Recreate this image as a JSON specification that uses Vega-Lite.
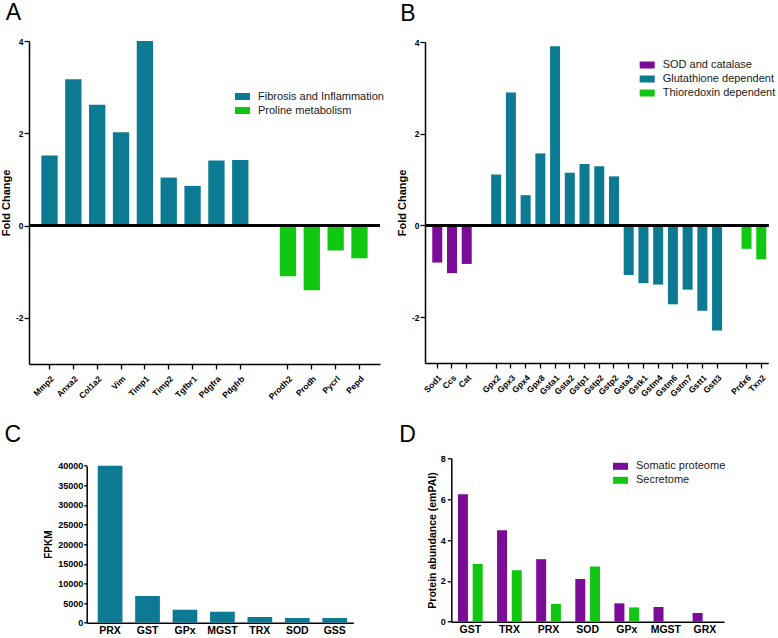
{
  "$schema": "https://vega.github.io/schema/vega-lite/v6.json",
  "background": "white",
  "padding": {"left": 0, "top": 2, "right": 0, "bottom": 0},
  "config": {
    "font": "Liberation Sans",
    "view": {"stroke": null},
    "axis": {"domainColor": "black", "tickColor": "black", "labelColor": "black", "titleColor": "black", "grid": false, "labelFontWeight": "bold", "titleFontWeight": "bold", "domainWidth": 1.5, "tickWidth": 1.3, "labelFont": "Liberation Sans", "titleFont": "Liberation Sans"},
    "legend": {"labelFont": "Liberation Sans", "labelFontSize": 11, "labelColor": "#1a1a1a", "symbolType": "M-1,-0.467H1V0.467H-1Z", "symbolSize": 225, "symbolStrokeWidth": 0, "labelOffset": 8, "rowPadding": 1, "padding": 0},
    "title": {"font": "Liberation Sans", "fontSize": 23, "fontWeight": "normal", "anchor": "start", "frame": "group", "baseline": "alphabetic", "color": "black"}
  },
  "concat": [
    {
      "title": {"text": "A", "dx": -23.3, "offset": 12},
      "width": 351,
      "height": 323,
      "data": {"values": [
        {"gene": "Mmp2", "fc": 1.52, "group": "Fibrosis and Inflammation"},
        {"gene": "Anxa2", "fc": 3.17, "group": "Fibrosis and Inflammation"},
        {"gene": "Col1a2", "fc": 2.62, "group": "Fibrosis and Inflammation"},
        {"gene": "Vim", "fc": 2.02, "group": "Fibrosis and Inflammation"},
        {"gene": "Timp1", "fc": 4.0, "group": "Fibrosis and Inflammation"},
        {"gene": "Timp2", "fc": 1.04, "group": "Fibrosis and Inflammation"},
        {"gene": "Tgfbr1", "fc": 0.86, "group": "Fibrosis and Inflammation"},
        {"gene": "Pdgfra", "fc": 1.41, "group": "Fibrosis and Inflammation"},
        {"gene": "Pdgfrb", "fc": 1.42, "group": "Fibrosis and Inflammation"},
        {"gene": "Prodh2", "fc": -1.10, "group": "Proline metabolism"},
        {"gene": "Prodh", "fc": -1.40, "group": "Proline metabolism"},
        {"gene": "Pycrl", "fc": -0.54, "group": "Proline metabolism"},
        {"gene": "Pepd", "fc": -0.71, "group": "Proline metabolism"}
      ]},
      "layer": [
        {
          "mark": {"type": "bar"},
          "encoding": {
            "x": {"field": "gene", "type": "nominal", "sort": null,
              "scale": {"domain": ["Mmp2", "Anxa2", "Col1a2", "Vim", "Timp1", "Timp2", "Tgfbr1", "Pdgfra", "Pdgfrb", " ", "Prodh2", "Prodh", "Pycrl", "Pepd"], "paddingInner": 0.316, "paddingOuter": 0.518},
              "axis": {"title": null, "values": ["Mmp2", "Anxa2", "Col1a2", "Vim", "Timp1", "Timp2", "Tgfbr1", "Pdgfra", "Pdgfrb", "Prodh2", "Prodh", "Pycrl", "Pepd"], "labelAngle": -45, "labelFontSize": 8.5, "tickSize": 5, "labelPadding": 5}},
            "y": {"field": "fc", "type": "quantitative",
              "scale": {"domain": [-3, 4], "nice": false},
              "axis": {"title": "Fold Change", "values": [-2, 0, 2, 4], "labelExpr": "datum.value < 0 ? '-' + abs(datum.value) : datum.label", "tickSize": 5, "labelPadding": 1, "labelFontSize": 8.5, "titleFontSize": 11, "titlePadding": 4}},
            "color": {"field": "group", "type": "nominal",
              "scale": {"domain": ["Fibrosis and Inflammation", "Proline metabolism"], "range": ["#0B7A92", "#12C712"]},
              "legend": {"title": null, "orient": "none", "legendX": 206, "legendY": 48, "symbolType": "M-1,-0.467H1V0.467H-1Z", "symbolSize": 225}}
          }
        },
        {"mark": {"type": "rule", "color": "black", "strokeWidth": 1.5}, "encoding": {"y": {"datum": 0}}}
      ]
    },
    {
      "title": {"text": "B", "dx": -24.7, "offset": 12.3},
      "width": 343.3,
      "height": 321,
      "data": {"values": [
        {"gene": "Sod1", "fc": -0.81, "group": "SOD and catalase"},
        {"gene": "Ccs", "fc": -1.04, "group": "SOD and catalase"},
        {"gene": "Cat", "fc": -0.84, "group": "SOD and catalase"},
        {"gene": "Gpx2", "fc": 1.11, "group": "Glutathione dependent"},
        {"gene": "Gpx3", "fc": 2.90, "group": "Glutathione dependent"},
        {"gene": "Gpx4", "fc": 0.66, "group": "Glutathione dependent"},
        {"gene": "Gpx8", "fc": 1.57, "group": "Glutathione dependent"},
        {"gene": "Gsta1", "fc": 3.91, "group": "Glutathione dependent"},
        {"gene": "Gsta2", "fc": 1.15, "group": "Glutathione dependent"},
        {"gene": "Gstp1", "fc": 1.34, "group": "Glutathione dependent"},
        {"gene": "Gstp2", "fc": 1.29, "group": "Glutathione dependent"},
        {"gene": "Gstp2_2", "fc": 1.07, "group": "Glutathione dependent"},
        {"gene": "Gsta3", "fc": -1.08, "group": "Glutathione dependent"},
        {"gene": "Gstk1", "fc": -1.26, "group": "Glutathione dependent"},
        {"gene": "Gstm4", "fc": -1.29, "group": "Glutathione dependent"},
        {"gene": "Gstm6", "fc": -1.72, "group": "Glutathione dependent"},
        {"gene": "Gstm7", "fc": -1.40, "group": "Glutathione dependent"},
        {"gene": "Gstt1", "fc": -1.86, "group": "Glutathione dependent"},
        {"gene": "Gstt3", "fc": -2.29, "group": "Glutathione dependent"},
        {"gene": "Prdx6", "fc": -0.51, "group": "Thioredoxin dependent"},
        {"gene": "Txn2", "fc": -0.74, "group": "Thioredoxin dependent"}
      ]},
      "layer": [
        {
          "mark": {"type": "bar"},
          "encoding": {
            "x": {"field": "gene", "type": "nominal", "sort": null,
              "scale": {"domain": ["Sod1", "Ccs", "Cat", " ", "Gpx2", "Gpx3", "Gpx4", "Gpx8", "Gsta1", "Gsta2", "Gstp1", "Gstp2", "Gstp2_2", "Gsta3", "Gstk1", "Gstm4", "Gstm6", "Gstm7", "Gstt1", "Gstt3", "  ", "Prdx6", "Txn2"], "paddingInner": 0.321, "paddingOuter": 0.316, "align": 0.78},
              "axis": {"title": null, "values": ["Sod1", "Ccs", "Cat", "Gpx2", "Gpx3", "Gpx4", "Gpx8", "Gsta1", "Gsta2", "Gstp1", "Gstp2", "Gstp2_2", "Gsta3", "Gstk1", "Gstm4", "Gstm6", "Gstm7", "Gstt1", "Gstt3", "Prdx6", "Txn2"], "labelExpr": "datum.value === 'Gstp2_2' ? 'Gstp2' : datum.label", "labelAngle": -45, "labelFontSize": 8.5, "tickSize": 5, "labelPadding": 5}},
            "y": {"field": "fc", "type": "quantitative",
              "scale": {"domain": [-3, 4], "nice": false},
              "axis": {"title": "Fold Change", "values": [-2, 0, 2, 4], "labelExpr": "datum.value < 0 ? '-' + abs(datum.value) : datum.label", "tickSize": 5, "labelPadding": 1, "labelFontSize": 8.5, "titleFontSize": 11, "titlePadding": 4}},
            "color": {"field": "group", "type": "nominal",
              "scale": {"domain": ["SOD and catalase", "Glutathione dependent", "Thioredoxin dependent"], "range": ["#7A0C97", "#0B7A92", "#12C712"]},
              "legend": {"title": null, "orient": "none", "legendX": 214.7, "legendY": 15.5, "symbolType": "M-1,-0.467H1V0.467H-1Z", "symbolSize": 225}}
          }
        },
        {"mark": {"type": "rule", "color": "black", "strokeWidth": 1.5}, "encoding": {"y": {"datum": 0}}}
      ]
    },
    {
      "title": {"text": "C", "dx": -24.4, "offset": 11.5},
      "width": 351,
      "height": 164.4,
      "data": {"values": [
        {"enzyme": "PRX", "fpkm": 40000},
        {"enzyme": "GST", "fpkm": 6800},
        {"enzyme": "GPx", "fpkm": 3300},
        {"enzyme": "MGST", "fpkm": 2800},
        {"enzyme": "TRX", "fpkm": 1450},
        {"enzyme": "SOD", "fpkm": 1200},
        {"enzyme": "GSS", "fpkm": 1200}
      ]},
      "mark": {"type": "bar", "color": "#0B7A92"},
      "encoding": {
        "x": {"field": "enzyme", "type": "nominal", "sort": null,
          "scale": {"range": [57.7, 324.3], "paddingInner": 0.34, "paddingOuter": 0.23, "align": 0.64},
          "axis": {"title": null, "labelAngle": 0, "labelFontSize": 10.5, "ticks": false, "tickSize": 0, "labelPadding": 3}},
        "y": {"field": "fpkm", "type": "quantitative",
          "scale": {"domain": [0, 40000], "nice": false, "range": [164.4, 7.4]},
          "axis": {"title": "FPKM", "offset": -57.7, "values": [0, 5000, 10000, 15000, 20000, 25000, 30000, 35000, 40000], "format": "d", "tickSize": 3, "labelPadding": 1, "labelFontSize": 9, "titleFontSize": 10, "titlePadding": 4}}
      }
    },
    {
      "title": {"text": "D", "dx": -25.7, "offset": 7},
      "width": 299,
      "height": 163.4,
      "data": {"values": [
        {"enzyme": "GST", "source": "Somatic proteome", "abundance": 6.24},
        {"enzyme": "GST", "source": "Secretome", "abundance": 2.83},
        {"enzyme": "TRX", "source": "Somatic proteome", "abundance": 4.48},
        {"enzyme": "TRX", "source": "Secretome", "abundance": 2.52},
        {"enzyme": "PRX", "source": "Somatic proteome", "abundance": 3.06},
        {"enzyme": "PRX", "source": "Secretome", "abundance": 0.87},
        {"enzyme": "SOD", "source": "Somatic proteome", "abundance": 2.09},
        {"enzyme": "SOD", "source": "Secretome", "abundance": 2.70},
        {"enzyme": "GPx", "source": "Somatic proteome", "abundance": 0.90},
        {"enzyme": "GPx", "source": "Secretome", "abundance": 0.70},
        {"enzyme": "MGST", "source": "Somatic proteome", "abundance": 0.72},
        {"enzyme": "MGST", "source": "Secretome", "abundance": 0},
        {"enzyme": "GRX", "source": "Somatic proteome", "abundance": 0.43},
        {"enzyme": "GRX", "source": "Secretome", "abundance": 0}
      ]},
      "mark": {"type": "bar"},
      "encoding": {
        "x": {"field": "enzyme", "type": "nominal", "sort": null,
          "scale": {"range": [26.3, 299], "paddingInner": 0.368, "paddingOuter": 0.17},
          "axis": {"title": null, "labelAngle": 0, "labelFontSize": 10.5, "ticks": false, "tickSize": 0, "labelPadding": 3}},
        "xOffset": {"field": "source", "type": "nominal", "sort": null,
          "scale": {"domain": ["Somatic proteome", "Secretome"], "paddingInner": 0.32, "paddingOuter": 0}},
        "y": {"field": "abundance", "type": "quantitative",
          "scale": {"domain": [0, 8], "nice": false},
          "axis": {"title": "Protein abundance (emPAI)", "offset": -26.3, "values": [0, 2, 4, 6, 8], "tickSize": 4, "labelPadding": 2, "labelFontSize": 9, "titleFontSize": 10.5, "titlePadding": 3}},
        "color": {"field": "source", "type": "nominal",
          "scale": {"domain": ["Somatic proteome", "Secretome"], "range": ["#7A0C97", "#12C712"]},
          "legend": {"title": null, "orient": "none", "legendX": 188, "legendY": 0.5, "symbolType": "M-1,-0.467H1V0.467H-1Z", "symbolSize": 225}}
      }
    }
  ],
  "columns": 2,
  "spacing": {"row": 94.3, "column": 45},
  "bounds": "flush",
  "align": "each",
  "center": {"row": true},
  "resolve": {"scale": {"color": "independent"}, "legend": {"color": "independent"}}
}
